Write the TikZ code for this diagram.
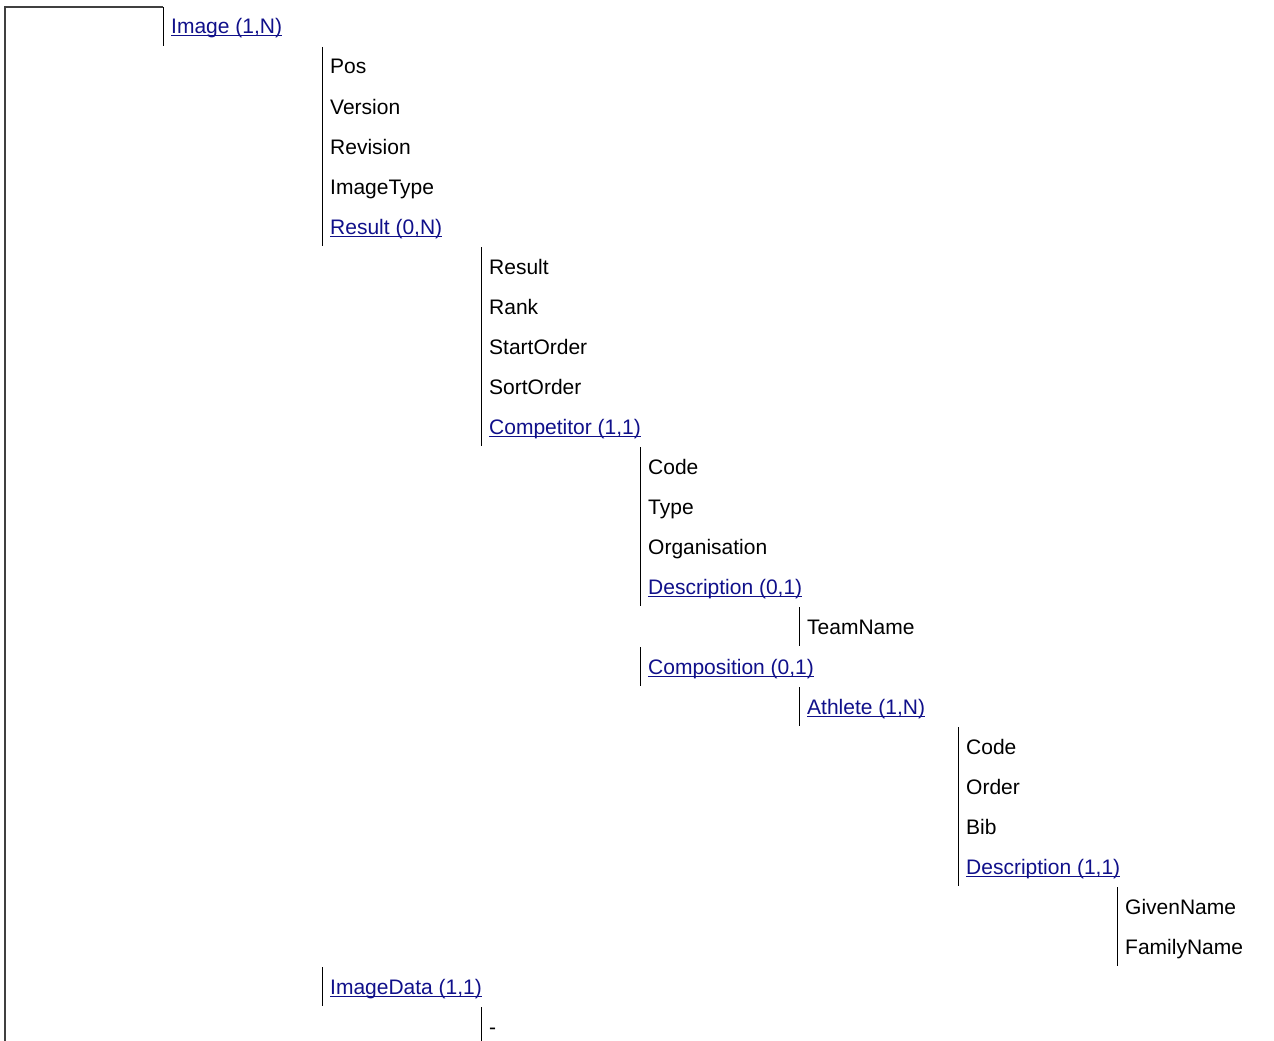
\documentclass[tikz,border=0pt]{standalone}
\usepackage{fontspec}
\setmainfont{Liberation Sans}
\definecolor{linkblue}{HTML}{10108A}
\tikzset{
  field/.style={anchor=base west, inner sep=0pt, font=\fontsize{21}{25}\selectfont},
  link/.style={field, text=linkblue},
  bar/.style={line width=1pt, black},
}
% underline of a link node
\newcommand{\ulink}[1]{\draw[linkblue, line width=1pt] ([yshift=-2pt]#1.base west) -- ([yshift=-2pt]#1.base east);}
\begin{document}
\begin{tikzpicture}[x=1pt,y=-1pt]
    \useasboundingbox (0,0) rectangle (1274,1041);

    %Frame
    \draw[line width=1.5pt, black!75] (5,1041) -- (5,7) -- (163,7);

    %Bars
    \draw[bar] (163,7) -- (163,46);
    \draw[bar] (322,47) -- (322,246);
    \draw[bar] (481,247) -- (481,446);
    \draw[bar] (640,447) -- (640,606);
    \draw[bar] (799,607) -- (799,646);
    \draw[bar] (640,647) -- (640,686);
    \draw[bar] (799,687) -- (799,726);
    \draw[bar] (958,727) -- (958,886);
    \draw[bar] (1117,887) -- (1117,966);
    \draw[bar] (322,967) -- (322,1006);
    \draw[bar] (481,1007) -- (481,1041);

    %Image
    \node[link] (image) at (171,34) {Image (1,N)};
    \node[field] (pos) at (330,74) {Pos};
    \node[field] (version) at (330,114) {Version};
    \node[field] (revision) at (330,154) {Revision};
    \node[field] (imagetype) at (330,194) {ImageType};
    \node[link] (resultlist) at (330,234) {Result (0,N)};

    %Result
    \node[field] (result) at (489,274) {Result};
    \node[field] (rank) at (489,314) {Rank};
    \node[field] (startorder) at (489,354) {StartOrder};
    \node[field] (sortorder) at (489,394) {SortOrder};
    \node[link] (competitor) at (489,434) {Competitor (1,1)};

    %Competitor
    \node[field] (compcode) at (648,474) {Code};
    \node[field] (comptype) at (648,514) {Type};
    \node[field] (organisation) at (648,554) {Organisation};
    \node[link] (compdesc) at (648,594) {Description (0,1)};
    \node[field] (teamname) at (807,634) {TeamName};
    \node[link] (composition) at (648,674) {Composition (0,1)};

    %Athlete
    \node[link] (athlete) at (807,714) {Athlete (1,N)};
    \node[field] (athcode) at (966,754) {Code};
    \node[field] (order) at (966,794) {Order};
    \node[field] (bib) at (966,834) {Bib};
    \node[link] (athdesc) at (966,874) {Description (1,1)};
    \node[field] (givenname) at (1125,914) {GivenName};
    \node[field] (familyname) at (1125,954) {FamilyName};

    %ImageData
    \node[link] (imagedata) at (330,994) {ImageData (1,1)};
    \node[field] (nodata) at (489,1034) {-};

    \foreach \n in {image,resultlist,competitor,compdesc,composition,athlete,athdesc,imagedata}
      {\ulink{\n}}
  \end{tikzpicture}
\end{document}
